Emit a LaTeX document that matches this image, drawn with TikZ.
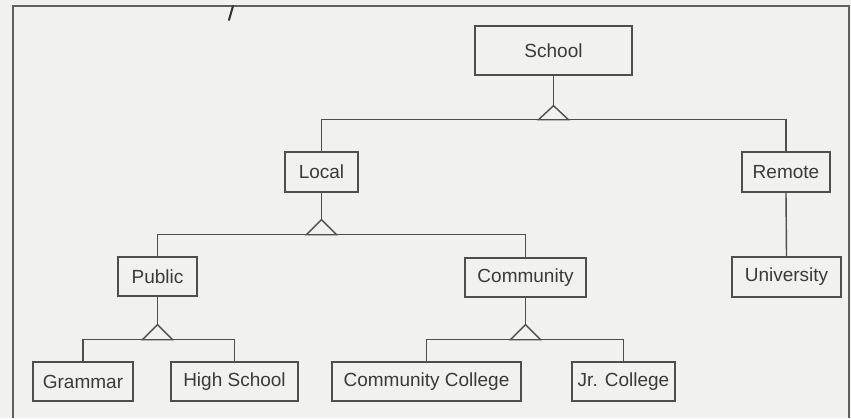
\documentclass[tikz,border=0pt]{standalone}
\usepackage{fontspec}
\setmainfont{Liberation Sans}
\usetikzlibrary{calc}
\definecolor{paper}{HTML}{F1F1F0}
\definecolor{ink}{HTML}{4E4E4E}
\definecolor{txt}{HTML}{3A3A3A}
\tikzset{
  cls/.style={draw=ink, line width=1.4pt, fill=paper, inner sep=0pt, text=txt,
    font=\fontsize{19}{22}\selectfont},
  conn/.style={draw=ink, line width=1.4pt},
  gen/.style={draw=ink, line width=1.4pt, fill=paper, line join=miter},
  frame/.style={draw=ink!90, line width=1.6pt}
}
\begin{document}
\begin{tikzpicture}[x=1pt,y=-1pt]
\useasboundingbox (0,0) rectangle (851,418);
\fill[paper] (0,0) rectangle (851,418);
% frame of the scanned page
\draw[frame] (13,418) -- (13,6) -- (849,6) -- (849,418);
\coordinate (penA) at (233,6);
\coordinate (penB) at (229,20);
\draw[draw=black!80, line width=2pt, line cap=round] (penA) -- (penB);

% classes
\node[cls, minimum width=157pt, minimum height=49pt] (school) at (553.5,50.5) {School};
\node[cls, minimum width=73pt, minimum height=40pt] (local) at (321.5,172) {Local};
\node[cls, minimum width=88pt, minimum height=40pt] (remote) at (786,172) {Remote};
\node[cls, minimum width=79pt, minimum height=39pt] (public) at (157.5,276.5) {Public};
\node[cls, minimum width=121pt, minimum height=39pt] (community) at (525.5,277.5) {Community};
\node[cls, minimum width=109pt, minimum height=40pt] (univ) at (786.5,277) {University};
\node[cls, minimum width=100pt, minimum height=39pt] (grammar) at (83,381.5) {Grammar};
\node[cls, minimum width=127pt, minimum height=39pt] (high) at (234.5,381.5) {High School};
\node[cls, minimum width=189pt, minimum height=39pt] (cc) at (426.5,381.5) {Community College};
\node[cls, minimum width=103pt, minimum height=39pt] (jr) at (623.5,381.5) {Jr. College};

% generalization: School
\coordinate (tS) at ($(school.south)+(0,30)$);
\coordinate (bS) at ($(tS)+(0,14)$);
\draw[conn] (local.north) |- (bS) -| (remote.north);
\draw[conn] (school.south) -- (tS);
\draw[gen] (tS) -- ++(-15,14) -- ++(30,0) -- cycle;

% generalization: Local
\coordinate (tL) at ($(local.south)+(0,27)$);
\coordinate (bL) at ($(tL)+(0,15)$);
\draw[conn] (public.north) |- (bL) -| (community.north);
\draw[conn] (local.south) -- (tL);
\draw[gen] (tL) -- ++(-15,15) -- ++(30,0) -- cycle;

% Remote -> University
\draw[conn] (remote.south) -- (univ.north);

% generalization: Public
\coordinate (tP) at ($(public.south)+(0,28)$);
\coordinate (bP) at ($(tP)+(0,15)$);
\draw[conn] (grammar.north) |- (bP) -| (high.north);
\draw[conn] (public.south) -- (tP);
\draw[gen] (tP) -- ++(-15,15) -- ++(30,0) -- cycle;

% generalization: Community
\coordinate (tC) at ($(community.south)+(0,27)$);
\coordinate (bC) at ($(tC)+(0,15)$);
\draw[conn] (cc.north) |- (bC) -| (jr.north);
\draw[conn] (community.south) -- (tC);
\draw[gen] (tC) -- ++(-15,15) -- ++(30,0) -- cycle;
\end{tikzpicture}
\end{document}
